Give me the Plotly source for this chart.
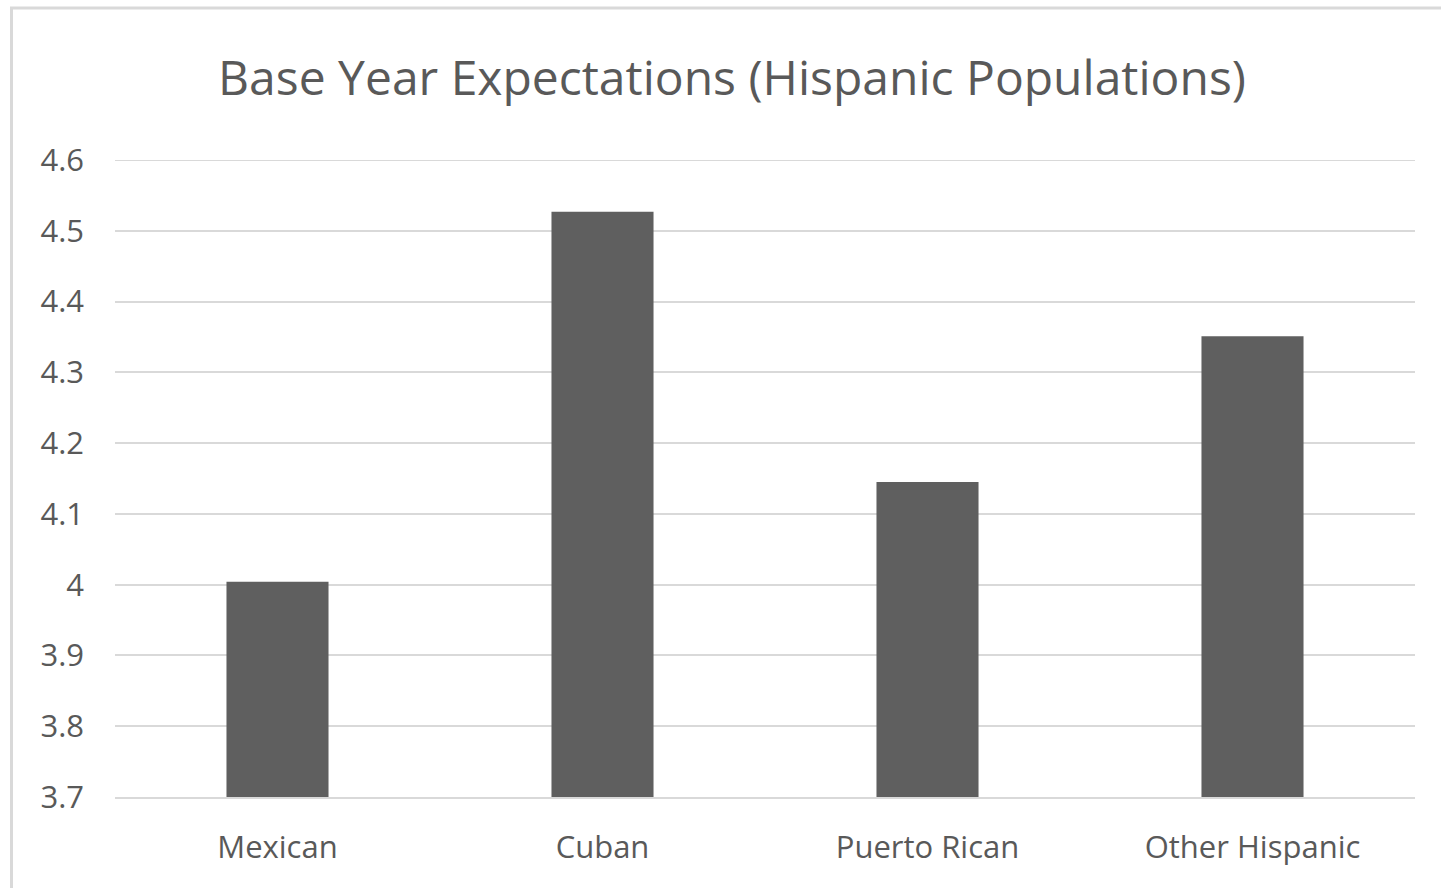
import plotly.graph_objects as go

# Mean base-year expectations by Hispanic subgroup
groups = ["Mexican", "Cuban", "Puerto Rican", "Other Hispanic"]
expectations = [4.004, 4.527, 4.145, 4.351]
y_ticks = [3.7, 3.8, 3.9, 4.0, 4.1, 4.2, 4.3, 4.4, 4.5, 4.6]
y_tick_text = ["3.7", "3.8", "3.9", "4", "4.1", "4.2", "4.3", "4.4", "4.5", "4.6"]

W, H = 1441, 888
ML, MR, MT, MB = 115, 26, 160, 91
plot_w = W - ML - MR
plot_h = H - MT - MB

text_color = "#595959"
grid_color = "#d9d9d9"
font_family = "Open Sans, Noto Sans, sans-serif"

fig = go.Figure(
    go.Bar(
        x=groups,
        y=expectations,
        marker=dict(color="#5f5f5f", line=dict(width=0)),
        hoverinfo="x+y",
    )
)

# outer chart frame, expressed in paper units relative to the plot area
def px_to_paper_x(px):
    return (px - ML) / plot_w

def px_to_paper_y(py):
    return (H - MB - py) / plot_h

fig.add_shape(
    type="rect",
    xref="paper", yref="paper",
    x0=px_to_paper_x(11.5), x1=px_to_paper_x(W + 10),
    y0=px_to_paper_y(H + 10), y1=px_to_paper_y(8),
    line=dict(color="#d9d9d9", width=3),
    fillcolor="rgba(0,0,0,0)",
    layer="below",
)

# top gridline sits on the edge of the axis range, so draw it explicitly
fig.add_hline(y=y_ticks[-1], line=dict(color=grid_color, width=2), layer="below")

fig.update_layout(
    width=W,
    height=H,
    margin=dict(l=ML, r=MR, t=MT, b=MB, autoexpand=False),
    paper_bgcolor="white",
    plot_bgcolor="white",
    bargap=0.686,
    showlegend=False,
    font=dict(family=font_family, color=text_color),
    title=dict(
        text="Base Year Expectations (Hispanic Populations)",
        x=0.508, xref="container", xanchor="center",
        y=1 - 78 / H, yref="container", yanchor="middle",
        font=dict(size=48, color=text_color, family=font_family),
    ),
    xaxis=dict(
        showgrid=False,
        showline=True,
        linecolor=grid_color,
        linewidth=2,
        ticks="",
        tickfont=dict(size=31, color=text_color),
        ticklabelstandoff=22,
    ),
    yaxis=dict(
        range=[3.7, 4.6],
        tickvals=y_ticks,
        ticktext=y_tick_text,
        showgrid=True,
        gridcolor=grid_color,
        gridwidth=2,
        zeroline=False,
        showline=False,
        ticks="",
        tickfont=dict(size=31, color=text_color),
        ticklabelstandoff=30,
    ),
)

fig.write_html("out.html")
